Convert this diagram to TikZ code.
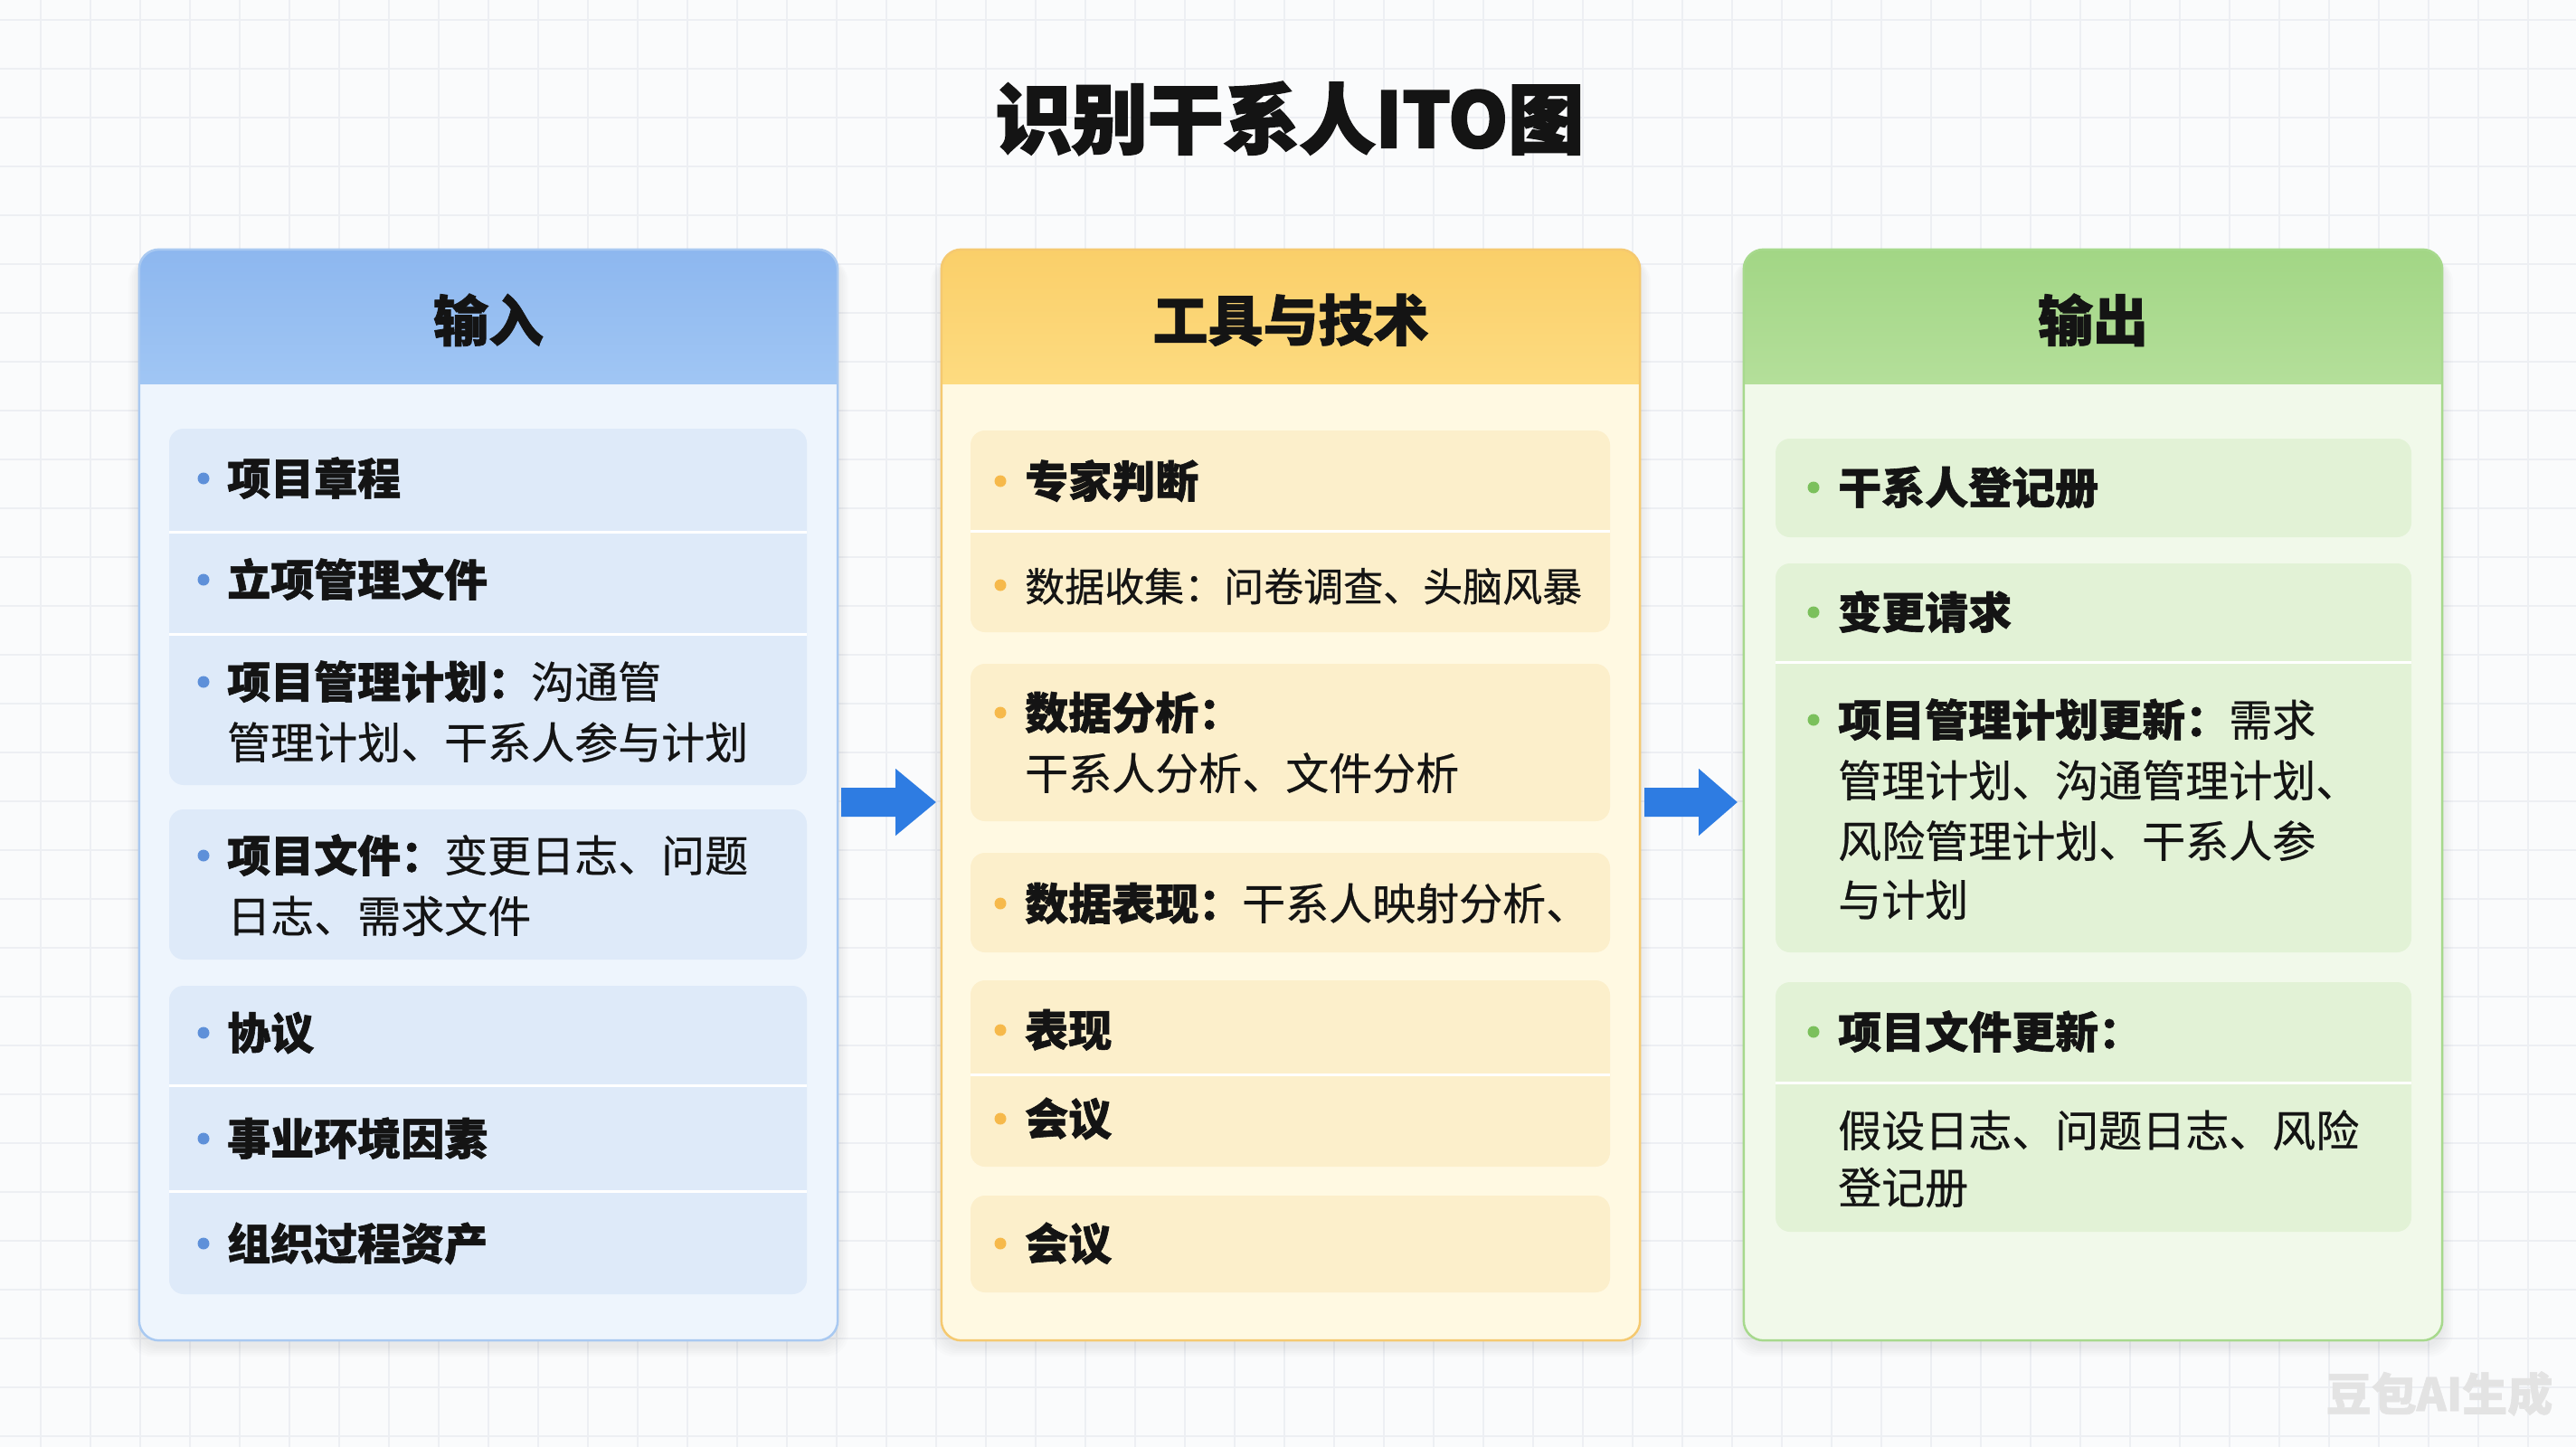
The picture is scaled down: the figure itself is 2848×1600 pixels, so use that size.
\documentclass[tikz,border=0pt]{standalone}
\usepackage{fontspec}
\setmainfont{Noto Sans CJK SC}[UprightFeatures={FakeBold=0.5}, BoldFeatures={FakeBold=1.2}]
\newfontfamily\titlefont{Noto Sans CJK SC}[BoldFeatures={FakeBold=2.5}]
\usetikzlibrary{calc}
\definecolor{bgc}{HTML}{FAFBFC}
\definecolor{gridc}{HTML}{EDEFF3}
\definecolor{ink}{HTML}{141414}
\definecolor{lhdA}{HTML}{8DB7EF}
\definecolor{lhdB}{HTML}{A0C6F4}
\definecolor{lbody}{HTML}{EEF5FD}
\definecolor{litem}{HTML}{DEEAF9}
\definecolor{lbord}{HTML}{A9C9F1}
\definecolor{lbul}{HTML}{5E90D9}
\definecolor{mhdA}{HTML}{FACF69}
\definecolor{mhdB}{HTML}{FDDB80}
\definecolor{mbody}{HTML}{FFF9E2}
\definecolor{mitem}{HTML}{FCEFCB}
\definecolor{mbord}{HTML}{F5C970}
\definecolor{mbul}{HTML}{F6B94B}
\definecolor{rhdA}{HTML}{A2D685}
\definecolor{rhdB}{HTML}{B4DF9A}
\definecolor{rbody}{HTML}{F1F9EA}
\definecolor{ritem}{HTML}{E2F2D6}
\definecolor{rbord}{HTML}{A7D98D}
\definecolor{rbul}{HTML}{7BC05C}
\definecolor{arrc}{HTML}{2E7CE2}
\tikzset{
  panel/.style={minimum width=772pt, minimum height=1206pt, inner sep=0pt},
  hdr/.style={font=\fontsize{61pt}{66pt}\selectfont\bfseries, text=ink, inner sep=0pt},
  itm/.style={font=\fontsize{48pt}{56pt}\selectfont, text=ink, anchor=west, inner sep=0pt, text height=42pt, text depth=6pt},
  grp/.style={rounded corners=16pt},
  sepline/.style={white, line width=3pt},
  blockarrow/.style={fill=arrc},
}
\newcommand{\panelshadow}[1]{%
  \foreach \i in {1,...,6}{
    \fill[black, opacity=0.012, rounded corners=26pt] ($(#1.north west)+(-2*\i,4+\i)$) rectangle ($(#1.south east)+(2*\i,6+2*\i)$);
  }}
\newcommand{\panelbody}[5]{% name, body, hdrA, hdrB, border
  \fill[#2, rounded corners=22pt] (#1.north west) rectangle (#1.south east);
  \begin{scope}
    \clip[rounded corners=22pt] (#1.north west) rectangle (#1.south east);
    \shade[top color=#3, bottom color=#4] (#1.north west) rectangle ($(#1.north east)+(0,149)$);
  \end{scope}
  \draw[#5, line width=2.5pt, rounded corners=22pt] (#1.north west) rectangle (#1.south east);
}
\begin{document}
\begin{tikzpicture}[x=1pt,y=-1pt]
\useasboundingbox (0,0) rectangle (2848,1600);
\fill[bgc] (0,0) rectangle (2848,1600);
\foreach \x in {45,100,...,2848} \draw[gridc, line width=1.5pt] (\x,0) -- (\x,1600);
\foreach \y in {22,76,...,1600} \draw[gridc, line width=1.5pt] (0,\y) -- (2848,\y);

% title
\node[font=\titlefont\fontsize{84pt}{90pt}\selectfont\bfseries, text=ink, inner sep=0pt, text height=74pt, text depth=10pt] (title) at (1426,131) {识别干系人ITO图};

% panels
\node[panel] (inp) at (540,879) {};
\node[panel] (tt) at (1427,879) {};
\node[panel] (outp) at (2314,879) {};
\panelshadow{inp}
\panelshadow{tt}
\panelshadow{outp}
\panelbody{inp}{lbody}{lhdA}{lhdB}{lbord}
\panelbody{tt}{mbody}{mhdA}{mhdB}{mbord}
\panelbody{outp}{rbody}{rhdA}{rhdB}{rbord}

\node[hdr] (inpT) at ($(inp.north)+(0,78)$) {输入};
\node[hdr] (ttT) at ($(tt.north)+(0,78)$) {工具与技术};
\node[hdr] (outpT) at ($(outp.north)+(0,78)$) {输出};

% arrows
\coordinate (a1s) at ($(inp.east)+(4,8)$);
\coordinate (a1e) at ($(tt.west)+(-6,8)$);
\fill[blockarrow] ($(a1s)+(0,-16)$) -- ($(a1s)+(60,-16)$) -- ($(a1s)+(60,-37)$) -- (a1e) -- ($(a1s)+(60,37)$) -- ($(a1s)+(60,16)$) -- ($(a1s)+(0,16)$) -- cycle;
\coordinate (a2s) at ($(tt.east)+(5,8)$);
\coordinate (a2e) at ($(outp.west)+(-7,8)$);
\fill[blockarrow] ($(a2s)+(0,-16)$) -- ($(a2s)+(60,-16)$) -- ($(a2s)+(60,-37)$) -- (a2e) -- ($(a2s)+(60,37)$) -- ($(a2s)+(60,16)$) -- ($(a2s)+(0,16)$) -- cycle;

% ---------- left items ----------
\fill[litem, grp] (187,474) rectangle (892,868);
\fill[litem, grp] (187,895) rectangle (892,1061);
\fill[litem, grp] (187,1090) rectangle (892,1431);
\draw[sepline] (187,588) -- (892,588);
\draw[sepline] (187,701) -- (892,701);
\draw[sepline] (187,1200) -- (892,1200);
\draw[sepline] (187,1317) -- (892,1317);
\foreach \yy in {529,641,754,946,1142,1259,1375} \fill[lbul] (225,\yy) circle (6.5pt);
\node[itm] (l1) at (251,529) {\bfseries 项目章程};
\node[itm] (l2) at (251,641) {\bfseries 立项管理文件};
\node[itm] (l3a) at (251,754) {{\bfseries 项目管理计划：}沟通管};
\node[itm] (l3b) at (251,821) {管理计划、干系人参与计划};
\node[itm] (l4a) at (251,946) {{\bfseries 项目文件：}变更日志、问题};
\node[itm] (l4b) at (251,1013) {日志、需求文件};
\node[itm] (l5) at (251,1142) {\bfseries 协议};
\node[itm] (l6) at (251,1259) {\bfseries 事业环境因素};
\node[itm] (l7) at (251,1375) {\bfseries 组织过程资产};

% ---------- middle items ----------
\fill[mitem, grp] (1073,476) rectangle (1780,699);
\fill[mitem, grp] (1073,734) rectangle (1780,908);
\fill[mitem, grp] (1073,943) rectangle (1780,1053);
\fill[mitem, grp] (1073,1084) rectangle (1780,1290);
\fill[mitem, grp] (1073,1322) rectangle (1780,1429);
\draw[sepline] (1073,587) -- (1780,587);
\draw[sepline] (1073,1188) -- (1780,1188);
\foreach \yy in {532,647,788,999,1139,1237,1375} \fill[mbul] (1106,\yy) circle (6.5pt);
\node[itm] (m1) at (1133,532) {\bfseries 专家判断};
\node[itm, font=\fontsize{44pt}{52pt}\selectfont] (m2) at (1133,647) {数据收集：问卷调查、头脑风暴};
\node[itm] (m3a) at (1133,788) {\bfseries 数据分析：};
\node[itm] (m3b) at (1133,855) {干系人分析、文件分析};
\node[itm] (m4) at (1133,999) {{\bfseries 数据表现：}干系人映射分析、};
\node[itm] (m5) at (1133,1139) {\bfseries 表现};
\node[itm] (m6) at (1133,1237) {\bfseries 会议};
\node[itm] (m7) at (1133,1375) {\bfseries 会议};

% ---------- right items ----------
\fill[ritem, grp] (1963,485) rectangle (2666,594);
\fill[ritem, grp] (1963,623) rectangle (2666,1053);
\fill[ritem, grp] (1963,1086) rectangle (2666,1362);
\draw[sepline] (1963,732) -- (2666,732);
\draw[sepline] (1963,1197) -- (2666,1197);
\foreach \yy in {539,677,796,1141} \fill[rbul] (2005,\yy) circle (6.5pt);
\node[itm] (r1) at (2032,539) {\bfseries 干系人登记册};
\node[itm] (r2) at (2032,677) {\bfseries 变更请求};
\node[itm] (r3a) at (2032,796) {{\bfseries 项目管理计划更新：}需求};
\node[itm] (r3b) at (2032,863) {管理计划、沟通管理计划、};
\node[itm] (r3c) at (2032,930) {风险管理计划、干系人参};
\node[itm] (r3d) at (2032,995) {与计划};
\node[itm] (r4) at (2032,1141) {\bfseries 项目文件更新：};
\node[itm] (r5a) at (2032,1250) {假设日志、问题日志、风险};
\node[itm] (r5b) at (2032,1313) {登记册};

% watermark
\node[font=\fontsize{50pt}{56pt}\selectfont\bfseries, text=black!11, inner sep=0pt] (wm) at (2697,1541) {豆包AI生成};
\end{tikzpicture}
\end{document}
